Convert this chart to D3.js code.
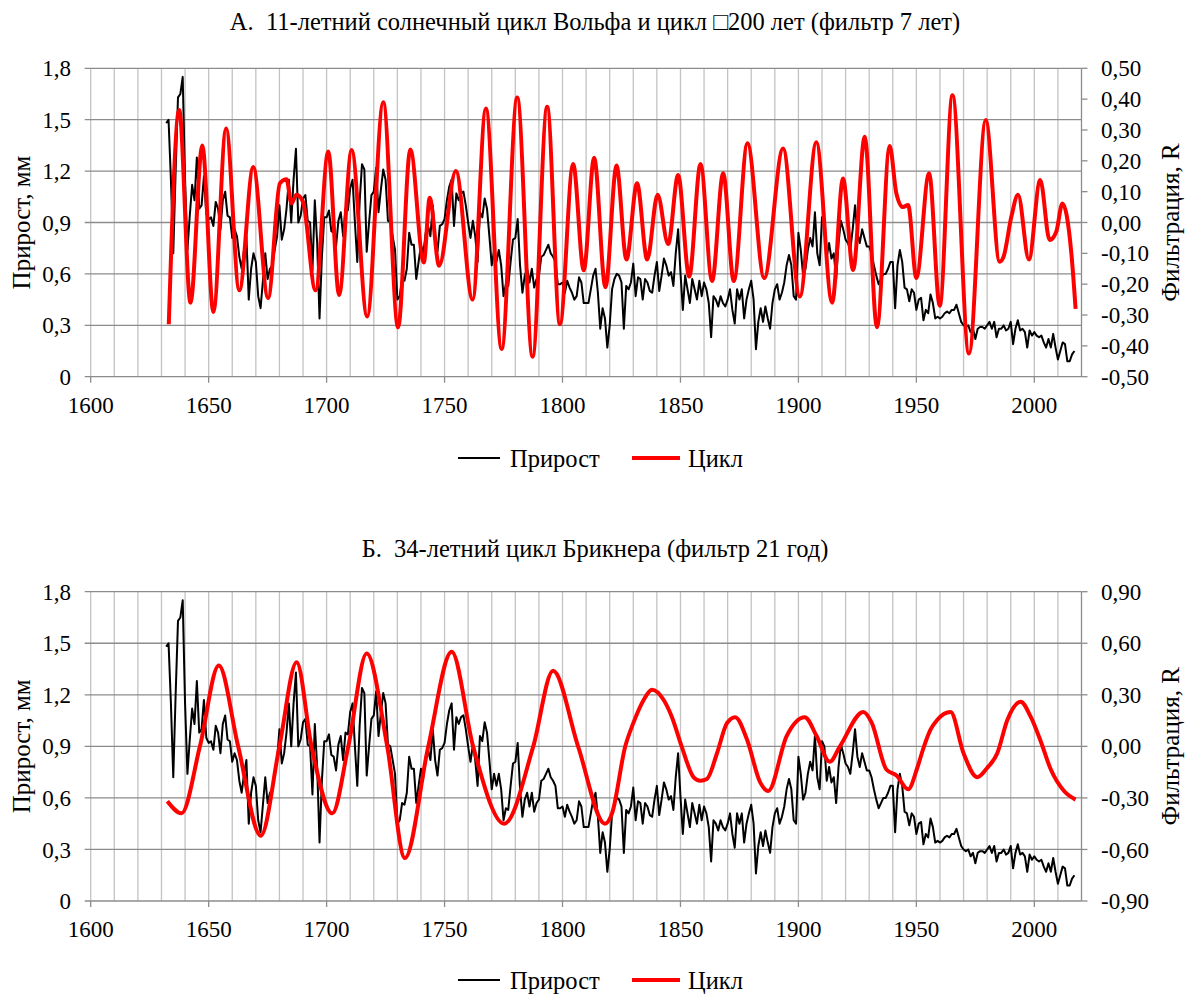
<!DOCTYPE html>
<html><head><meta charset="utf-8">
<script src="https://cdn.jsdelivr.net/npm/d3@7"></script>
<style>
body{margin:0;background:#fff}
svg{display:block}
text{font-family:"Liberation Serif","Times New Roman",serif;fill:#000;white-space:pre}
</style>
</head><body>
<svg id="c" width="1185" height="994"></svg>
<script>
// ---------------- DATA ----------------
const startYear = 1632;
// Прирост, мм (one value per year from 1632)
const prirost = [
1.48,1.50,1.15,0.72,1.20,1.63,1.65,1.75,1.15,0.74,
0.94,1.12,1.03,1.28,0.98,1.00,1.17,0.95,0.92,0.93,
0.88,1.02,0.98,0.86,1.03,1.08,0.94,0.93,0.81,0.86,
0.82,0.70,0.63,0.74,0.82,0.45,0.63,0.72,0.67,0.47,
0.40,0.56,0.72,0.57,0.63,0.65,0.74,0.82,1.00,0.80,
0.86,0.98,1.15,0.90,1.15,1.33,0.90,0.94,1.04,1.06,
0.91,0.90,0.62,1.03,0.78,0.34,0.70,0.93,0.93,0.97,
0.85,0.84,0.76,0.91,0.96,0.82,0.98,0.97,1.10,1.15,
0.90,0.67,1.02,1.24,1.21,0.73,0.90,1.06,1.08,1.22,
0.96,1.09,1.21,1.15,0.91,0.90,0.82,0.74,0.45,0.47,
0.57,0.56,0.63,0.84,0.77,0.77,0.57,0.67,0.77,0.72,
0.84,0.88,0.82,1.00,0.82,0.73,0.88,0.89,0.92,1.03,
1.11,1.15,0.88,1.07,1.03,1.07,1.08,1.00,0.90,0.81,
0.91,0.82,0.67,0.96,0.93,1.04,0.98,0.82,0.65,0.74,
0.67,0.74,0.65,0.47,0.54,0.53,0.67,0.80,0.81,0.92,
0.65,0.49,0.59,0.63,0.55,0.63,0.52,0.57,0.59,0.70,
0.71,0.74,0.77,0.72,0.70,0.67,0.54,0.54,0.55,0.49,
0.56,0.52,0.49,0.45,0.47,0.58,0.55,0.43,0.43,0.43,
0.51,0.59,0.63,0.49,0.28,0.40,0.34,0.17,0.30,0.51,
0.57,0.60,0.59,0.55,0.28,0.53,0.51,0.55,0.66,0.47,
0.58,0.57,0.45,0.57,0.55,0.50,0.49,0.59,0.67,0.50,
0.59,0.69,0.65,0.59,0.61,0.53,0.72,0.86,0.61,0.39,
0.59,0.51,0.43,0.57,0.51,0.45,0.56,0.47,0.55,0.51,
0.43,0.23,0.47,0.45,0.41,0.47,0.43,0.41,0.45,0.51,
0.39,0.31,0.51,0.45,0.51,0.34,0.45,0.51,0.56,0.45,
0.16,0.32,0.40,0.32,0.41,0.34,0.28,0.43,0.51,0.54,
0.45,0.49,0.55,0.65,0.71,0.65,0.47,0.45,0.84,0.74,
0.59,0.63,0.74,0.81,0.76,0.96,0.72,0.65,0.93,0.90,
0.70,0.78,0.69,0.72,0.57,0.78,0.91,0.86,0.80,0.78,
0.74,0.86,1.00,0.84,0.78,0.86,0.81,0.76,0.76,0.72,
0.65,0.59,0.54,0.57,0.60,0.60,0.63,0.67,0.67,0.40,
0.65,0.74,0.67,0.52,0.51,0.44,0.51,0.49,0.39,0.45,
0.46,0.33,0.39,0.37,0.48,0.43,0.34,0.35,0.34,0.35,
0.37,0.38,0.37,0.39,0.39,0.42,0.37,0.32,0.30,0.29,
0.30,0.26,0.28,0.22,0.28,0.29,0.29,0.28,0.30,0.32,
0.28,0.32,0.23,0.28,0.28,0.30,0.27,0.28,0.32,0.19,
0.28,0.33,0.27,0.28,0.26,0.17,0.27,0.24,0.26,0.24,
0.23,0.24,0.20,0.17,0.22,0.17,0.25,0.17,0.10,0.15,
0.20,0.19,0.09,0.09,0.13,0.15
];
const years = d3.range(startYear, startYear + prirost.length);

// Цикл (A): 11-year Wolf cycle, turning points
const wolfYears = [1633.1,1637.5,1642.3,1647.3,1652,1657.4,1663,1668.9,1675.2,1680.2,1683,1685.1,1687.2,1690,1695.3,1700.7,1705.3,1710.6,1717.2,1724,1730.3,1735.5,1741.2,1743.7,1747.7,1754.8,1761.9,1767.5,1774.2,1780.8,1787.3,1793.5,1798.9,1804.5,1809,1813.4,1818.2,1822.9,1827.1,1831.6,1835.9,1840.3,1844.8,1849,1853.7,1858.5,1863.4,1868.1,1872.6,1878.4,1885.5,1893.5,1900.6,1907.6,1914.3,1918.9,1923.2,1928.1,1933.3,1938.7,1941.5,1944.3,1946.5,1950,1955.4,1959.9,1965.3,1972.3,1979.4,1985.3,1987,1990.3,1993.1,1997.7,2002.5,2006.5,2009.3,2011.9,2015.7,2017.5];
const wolfValues = [-0.33,0.365,-0.26,0.25,-0.29,0.305,-0.22,0.18,-0.245,0.127,0.14,0.062,0.09,0.067,-0.22,0.23,-0.235,0.235,-0.305,0.39,-0.34,0.237,-0.13,0.08,-0.14,0.167,-0.25,0.37,-0.41,0.405,-0.435,0.375,-0.33,0.19,-0.155,0.21,-0.21,0.185,-0.12,0.127,-0.12,0.09,-0.07,0.154,-0.175,0.19,-0.19,0.16,-0.19,0.257,-0.18,0.24,-0.24,0.26,-0.26,0.143,-0.154,0.278,-0.34,0.248,0.095,0.05,0.057,-0.18,0.16,-0.27,0.413,-0.425,0.332,-0.127,-0.11,0.02,0.09,-0.12,0.138,-0.057,-0.03,0.062,-0.10,-0.28];

// Цикл (Б): 34-year Brückner cycle
const brYears = [1632.5,1638.5,1646.3,1654.3,1662.5,1672.1,1680,1687.3,1693.6,1702.4,1709.2,1717,1725.7,1733.2,1743.1,1753,1762.1,1775.3,1787.6,1796,1806.6,1818,1821,1826.6,1830,1834.4,1837.9,1842.9,1846.4,1850.5,1855.6,1858.4,1861.2,1865.5,1869.7,1873.2,1878.2,1883.8,1887.2,1895,1902.7,1907.7,1913.3,1917.6,1927.5,1931,1937.3,1941.6,1946.5,1950.5,1953,1956,1958.9,1964.5,1970,1975.8,1980,1984.3,1988.6,1994.2,1998.4,2002.7,2007,2012.6,2017.5];
const brValues = [-0.32,-0.39,0,0.47,0,-0.52,0,0.49,0,-0.39,0,0.54,0,-0.65,0,0.55,0,-0.45,0,0.44,0,-0.45,-0.39,0,0.135,0.27,0.33,0.27,0.17,0,-0.18,-0.20,-0.19,-0.04,0.135,0.17,0.04,-0.21,-0.26,0.06,0.17,0.06,-0.09,0,0.20,0.14,-0.135,-0.17,-0.25,-0.12,-0.01,0.097,0.155,0.20,-0.04,-0.18,-0.126,-0.04,0.155,0.26,0.174,0.03,-0.135,-0.26,-0.31];

const xTicks = [1600,1650,1700,1750,1800,1850,1900,1950,2000];
const xGrid = d3.range(1610, 2020, 10);
const leftTicks = [0,0.3,0.6,0.9,1.2,1.5,1.8];
const rightTicksA = [-0.5,-0.4,-0.3,-0.2,-0.1,0,0.1,0.2,0.3,0.4,0.5];
const rightTicksB = [-0.9,-0.6,-0.3,0,0.3,0.6,0.9];

const titleA = "А.  11-летний солнечный цикл Вольфа и цикл \u25A1200 лет (фильтр 7 лет)";
const titleB = "Б.  34-летний цикл Брикнера (фильтр 21 год)";
const yTitleL = "Прирост, мм";
const yTitleR = "Фильтрация, R";
const legendNames = ["Прирост","Цикл"];

// ---------------- DRAW ----------------
const svg = d3.select("#c");
const L = 90.7, R = 1081.5;
const x = d3.scaleLinear().domain([1600, 2020]).range([L, R]);
const fmt = (d, n) => (d < 0 ? "-" : "") + Math.abs(d).toFixed(n).replace(".", ",");
const H_GRID = "#8c8c8c", V_GRID = "#c3c3c3";
const TICK_FS = "23px", TITLE_FS = "24.5px", LEG_FS = "24.5px", AXT_FS = "25px";

function panel(o) {
  const g = svg.append("g");
  const yL = d3.scaleLinear().domain([0, 1.8]).range([o.bottom, o.top]);
  const yR = d3.scaleLinear().domain(o.rDomain).range([o.bottom, o.top]);

  g.append("text").attr("x", 595).attr("y", o.titleY).attr("text-anchor", "middle")
    .style("font-size", TITLE_FS).text(o.title);

  // vertical grid
  g.selectAll(".vg").data(xGrid).join("line")
    .attr("x1", d => x(d)).attr("x2", d => x(d))
    .attr("y1", o.top).attr("y2", o.bottom)
    .attr("stroke", V_GRID).attr("stroke-width", 1.3);
  // left axis line
  g.append("line").attr("x1", L).attr("x2", L).attr("y1", o.top).attr("y2", o.bottom)
    .attr("stroke", V_GRID).attr("stroke-width", 1.3);
  // horizontal grid (+ left ticks)
  g.selectAll(".hg").data(leftTicks).join("line")
    .attr("x1", L - 6).attr("x2", R).attr("y1", d => yL(d)).attr("y2", d => yL(d))
    .attr("stroke", H_GRID).attr("stroke-width", 1.3);
  // right axis
  g.append("line").attr("x1", R).attr("x2", R).attr("y1", o.top).attr("y2", o.bottom)
    .attr("stroke", H_GRID).attr("stroke-width", 1.3);
  g.selectAll(".rt").data(o.rTicks).join("line")
    .attr("x1", R).attr("x2", R + 6).attr("y1", d => yR(d)).attr("y2", d => yR(d))
    .attr("stroke", H_GRID).attr("stroke-width", 1.3);
  // bottom ticks
  g.selectAll(".bt").data(xTicks).join("line")
    .attr("x1", d => x(d)).attr("x2", d => x(d)).attr("y1", o.bottom).attr("y2", o.bottom + 6)
    .attr("stroke", H_GRID).attr("stroke-width", 1.3);

  // tick labels
  g.selectAll(".lt").data(leftTicks).join("text")
    .attr("x", 71).attr("y", d => yL(d)).attr("dy", "0.35em").attr("text-anchor", "end")
    .style("font-size", TICK_FS).text(d => d === 0 ? "0" : fmt(d, 1));
  g.selectAll(".rl").data(o.rTicks).join("text")
    .attr("x", 1101).attr("y", d => yR(d)).attr("dy", "0.35em").attr("text-anchor", "start")
    .style("font-size", TICK_FS).text(d => fmt(Math.abs(d) < 1e-9 ? 0 : d, 2));
  g.selectAll(".xl").data(xTicks).join("text")
    .attr("x", d => x(d)).attr("y", o.bottom + 36).attr("text-anchor", "middle")
    .style("font-size", TICK_FS).text(d => d);

  // axis titles
  const cy = (o.top + o.bottom) / 2;
  g.append("text").attr("transform", `translate(30,${cy}) rotate(-90)`).attr("text-anchor", "middle")
    .style("font-size", AXT_FS).text(yTitleL);
  g.append("text").attr("transform", `translate(1179,${cy}) rotate(-90)`).attr("text-anchor", "middle")
    .style("font-size", AXT_FS).text(yTitleR);

  // series
  const lineB = d3.line().x((d, i) => x(years[i])).y(d => yL(d));
  g.append("path").datum(prirost).attr("d", lineB).attr("fill", "none")
    .attr("stroke", "#000").attr("stroke-width", 2).attr("stroke-linejoin", "round");
  const lineR = d3.line().curve(d3.curveMonotoneX).x(d => x(d[0])).y(d => yR(d[1]));
  g.append("path").datum(o.rYears.map((yy, i) => [yy, o.rValues[i]])).attr("d", lineR)
    .attr("fill", "none").attr("stroke", "#ff0000").attr("stroke-width", 4).attr("stroke-linejoin", "round");

  // legend
  const ly = o.legendY;
  g.append("line").attr("x1", 458).attr("x2", 500).attr("y1", ly).attr("y2", ly).attr("stroke", "#000").attr("stroke-width", 2);
  g.append("text").attr("x", 510).attr("y", ly).attr("dy", "0.35em").style("font-size", LEG_FS).text(legendNames[0]);
  g.append("line").attr("x1", 632).attr("x2", 680).attr("y1", ly).attr("y2", ly).attr("stroke", "#ff0000").attr("stroke-width", 4);
  g.append("text").attr("x", 688).attr("y", ly).attr("dy", "0.35em").style("font-size", LEG_FS).text(legendNames[1]);
}

panel({top: 68.3, bottom: 376.7, title: titleA, titleY: 30, rDomain: [-0.5, 0.5], rTicks: rightTicksA,
       rYears: wolfYears, rValues: wolfValues, legendY: 458});
panel({top: 591.7, bottom: 901, title: titleB, titleY: 557, rDomain: [-0.9, 0.9], rTicks: rightTicksB,
       rYears: brYears, rValues: brValues, legendY: 980});
</script>
</body></html>
